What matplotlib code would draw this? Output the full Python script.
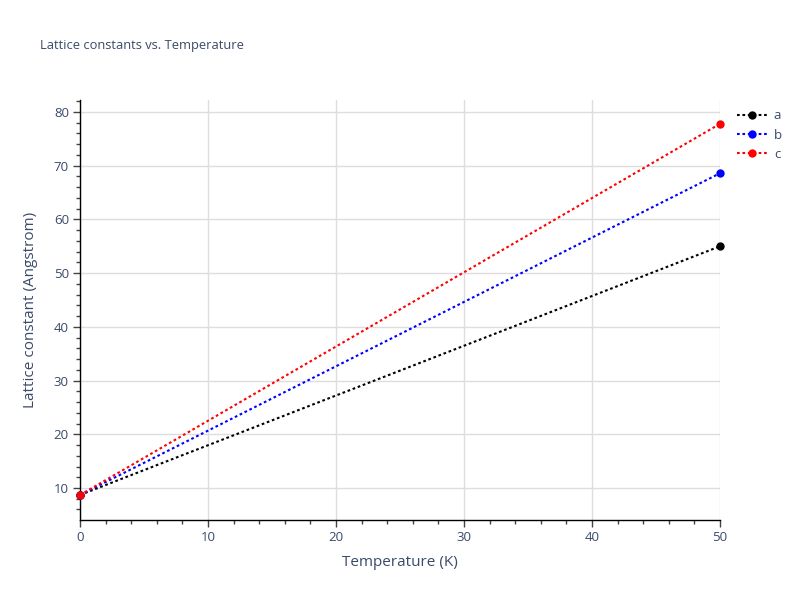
import matplotlib
matplotlib.use("Agg")
import matplotlib.pyplot as plt
from matplotlib.ticker import MultipleLocator

temperature = [0, 50]
a_vals = [8.7, 55.0]
b_vals = [8.7, 68.6]
c_vals = [8.7, 77.8]
series_names = ["a", "b", "c"]
series_colors = ["black", "blue", "red"]

plt.rcParams["font.family"] = ["Open Sans", "DejaVu Sans"]
txt = "#3a4a68"
fig = plt.figure(figsize=(8, 6), dpi=100)
ax = fig.add_axes([0.1, 0.1333, 0.8, 0.7])

for vals, name, col in zip([a_vals, b_vals, c_vals], series_names, series_colors):
    ax.plot(temperature, vals, color=col, lw=1.5, dashes=(1.3, 1.3),
            marker="o", markersize=5, label=name, clip_on=False, zorder=3)

ax.set_xlim(0, 50)
ax.set_ylim(4.04, 82.23)
ax.xaxis.set_major_locator(MultipleLocator(10))
ax.xaxis.set_minor_locator(MultipleLocator(2))
ax.yaxis.set_major_locator(MultipleLocator(10))
ax.yaxis.set_minor_locator(MultipleLocator(2))
ax.grid(True, which="major", color="#dddddd", lw=1)
ax.set_axisbelow(True)
for s in ["top", "right"]:
    ax.spines[s].set_visible(False)
for s in ["left", "bottom"]:
    ax.spines[s].set_color("black")
    ax.spines[s].set_linewidth(1)
ax.tick_params(which="major", direction="out", length=5, width=1, color="#444444",
               labelcolor=txt, labelsize=9.5, pad=3)
ax.tick_params(which="minor", direction="out", length=3, width=1, color="#444444")

ax.set_xlabel("Temperature (K)", color=txt, fontsize=11, labelpad=8)
ax.set_ylabel("Lattice constant (Angstrom)", color=txt, fontsize=11, labelpad=11)
fig.text(0.05, 1 - 45 / 600, "Lattice constants vs. Temperature", color=txt,
         fontsize=9.3, va="center", ha="left")

leg = ax.legend(loc="upper left", bbox_to_anchor=(1.012, 1.0), frameon=False,
                fontsize=9.5, labelcolor=txt, handlelength=2.3, handletextpad=0.5,
                borderaxespad=0.3, labelspacing=0.48)

fig.savefig("out.png", dpi=100)
